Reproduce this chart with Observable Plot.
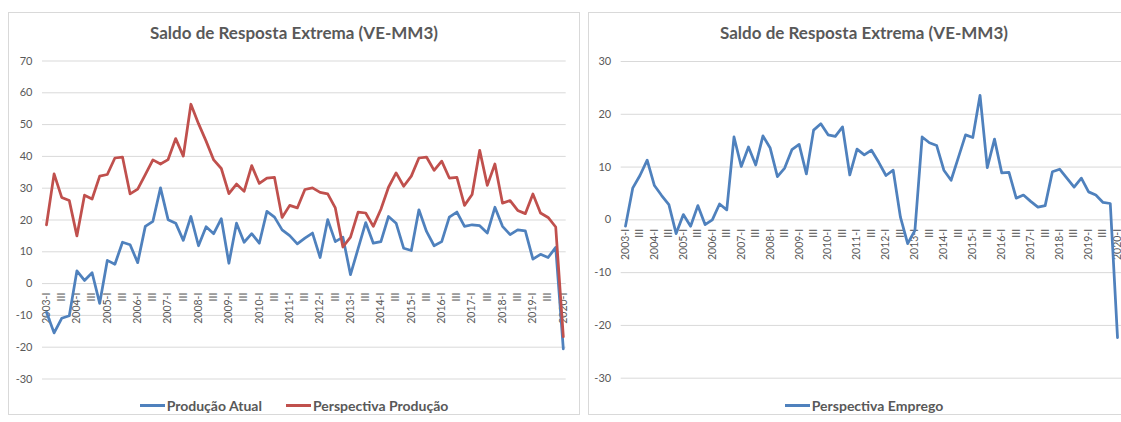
<!DOCTYPE html>
<html>
<head>
<meta charset="utf-8">
<script src="https://cdn.jsdelivr.net/npm/d3@7"></script>
<script src="https://cdn.jsdelivr.net/npm/@observablehq/plot@0.6"></script>
<style>
  html, body { margin: 0; padding: 0; background: #fff; }
  body { width: 1121px; height: 422px; position: relative; overflow: hidden; font-family: Lato, "Open Sans", sans-serif; }
  .panel { position: absolute; top: 12px; height: 403px; border: 1px solid #d9d9d9; box-sizing: border-box; background: #fff; }
  .title { position: absolute; top: 22px; text-align: center; font-weight: bold; font-size: 17px; color: #595959; line-height: 22px; white-space: nowrap; }
  .chart { position: absolute; top: 50px; }
  .legend { position: absolute; top: 396px; height: 18px; display: flex; justify-content: center; align-items: center; gap: 24px; font-weight: bold; font-size: 14px; color: #595959; white-space: nowrap; }
  .item { display: flex; align-items: center; gap: 2px; }
  .sw { display: inline-block; width: 25px; height: 3px; }
</style>
</head>
<body>
<div class="panel" style="left:8px;width:572px;"></div>
<div class="panel" style="left:588px;width:560px;"></div>
<div class="title" style="left:8px;width:572px;">Saldo de Resposta Extrema (VE-MM3)</div>
<div class="title" style="left:588px;width:552px;">Saldo de Resposta Extrema (VE-MM3)</div>
<div id="left" class="chart" style="left:0px;"></div>
<div id="right" class="chart" style="left:588px;"></div>
<div class="legend" style="left:8px;width:572px;">
  <span class="item"><span class="sw" style="background:#4F81BD"></span>Produção Atual</span>
  <span class="item"><span class="sw" style="background:#C0504D"></span>Perspectiva Produção</span>
</div>
<div class="legend" style="left:588px;width:552px;">
  <span class="item"><span class="sw" style="background:#4F81BD"></span>Perspectiva Emprego</span>
</div>
<script>
const categories = [
  "2003-I","II","III","IV","2004-I","II","III","IV","2005-I","II","III","IV",
  "2006-I","II","III","IV","2007-I","II","III","IV","2008-I","II","III","IV",
  "2009-I","II","III","IV","2010-I","II","III","IV","2011-I","II","III","IV",
  "2012-I","II","III","IV","2013-I","II","III","IV","2014-I","II","III","IV",
  "2015-I","II","III","IV","2016-I","II","III","IV","2017-I","II","III","IV",
  "2018-I","II","III","IV","2019-I","II","III","IV","2020-I"
];
const producaoAtual = [
  -9, -15.5, -10.9, -10.1, 4.0, 1.0, 3.4, -6.2, 7.3, 6.1, 13.0, 12.2,
  6.6, 18.0, 19.6, 30.1, 20.1, 19.0, 13.6, 21.1, 11.9, 17.9, 15.7, 20.4,
  6.4, 19.0, 13.0, 15.7, 12.7, 22.7, 20.9, 16.9, 15.1, 12.5, 14.3, 15.9,
  8.2, 20.1, 13.2, 14.6, 2.8, 11.0, 19.2, 12.7, 13.2, 21.1, 19.0, 11.1,
  10.4, 23.2, 16.4, 11.9, 13.2, 20.9, 22.5, 18.0, 18.5, 18.2, 15.9, 24.0,
  18.0, 15.4, 16.9, 16.6, 7.7, 9.2, 8.2, 11.4, -20.5
];
const perspectivaProducao = [
  18.5, 34.5, 27.1, 26.1, 15.0, 27.8, 26.6, 33.8, 34.3, 39.5, 39.8, 28.2,
  29.7, 34.3, 38.9, 37.6, 39.0, 45.6, 40.1, 56.4, 50.3, 44.8, 38.9, 36.2,
  28.3, 31.3, 29.0, 37.1, 31.5, 33.2, 33.4, 20.8, 24.6, 23.8, 29.6, 30.1,
  28.7, 28.2, 23.8, 11.5, 14.6, 22.5, 22.2, 18.0, 23.4, 30.3, 34.8, 30.6,
  33.8, 39.5, 39.8, 35.6, 38.5, 33.2, 33.4, 24.6, 28.0, 41.9, 30.9, 37.6,
  25.3, 26.1, 23.0, 22.0, 28.2, 22.2, 20.8, 17.8, -16.7
];
const perspectivaEmprego = [
  -1.2, 6.0, 8.4, 11.3, 6.5, 4.6, 2.9, -2.6, 1.0, -1.2, 2.7, -0.9,
  0, 3.0, 1.9, 15.7, 10.1, 13.8, 10.4, 15.9, 13.6, 8.2, 9.8, 13.3,
  14.3, 8.7, 17.0, 18.2, 16.1, 15.8, 17.6, 8.5, 13.4, 12.3, 13.2, 10.9,
  8.4, 9.4, 0.5, -4.5, -2.0, 15.7, 14.6, 14.1, 9.4, 7.5, 11.8, 16.1,
  15.6, 23.6, 9.9, 15.3, 8.9, 9.0, 4.1, 4.7, 3.5, 2.4, 2.7, 9.1,
  9.6, 7.9, 6.2, 7.9, 5.3, 4.7, 3.3, 3.1, -22.3
];
const leftTicks = [-30, -20, -10, 0, 10, 20, 30, 40, 50, 60, 70];
const rightTicks = [-30, -20, -10, 0, 10, 20, 30];

const rows = (arr) => categories.map((c, i) => ({i, c, v: arr[i]}));
const labelRows = categories.map((c, i) => ({i, c})).filter(d => d.i % 2 === 0);

function chart({width, height, ml, mr, mt, mb, xdom, ydom, ticks, series}) {
  return Plot.plot({
    width, height,
    marginLeft: ml, marginRight: mr, marginTop: mt, marginBottom: mb,
    style: {fontFamily: "Lato, 'Open Sans', sans-serif", fontSize: "11px", color: "#595959", background: "transparent", overflow: "visible"},
    x: {type: "linear", domain: xdom, axis: null},
    y: {domain: ydom, ticks, tickSize: 0, tickPadding: 10, label: null, tickFormat: d => String(d)},
    marks: [
      Plot.ruleY(ticks, {stroke: "#d9d9d9", strokeWidth: 1}),
      Plot.text(labelRows, {x: "i", y: () => 0, text: "c", rotate: -90, textAnchor: "end", dy: 9, fontSize: 10.5, fill: "#595959"}),
      ...series.map(s => Plot.line(rows(s.values), {x: "i", y: "v", stroke: s.color, strokeWidth: 2.75, strokeLinejoin: "round", strokeLinecap: "round"}))
    ]
  });
}

document.getElementById("left").append(chart({
  width: 580, height: 340, ml: 42, mr: 14.3, mt: 10.5, mb: 11.5,
  xdom: [-0.526, 68.38], ydom: [-30, 70], ticks: leftTicks,
  series: [
    {values: producaoAtual, color: "#4F81BD"},
    {values: perspectivaProducao, color: "#C0504D"}
  ]
}));
document.getElementById("right").append(chart({
  width: 533, height: 340, ml: 32.7, mr: 0, mt: 11, mb: 12.3,
  xdom: [-0.59, 68.55], ydom: [-30, 30], ticks: rightTicks,
  series: [
    {values: perspectivaEmprego, color: "#4F81BD"}
  ]
}));
</script>
</body>
</html>
